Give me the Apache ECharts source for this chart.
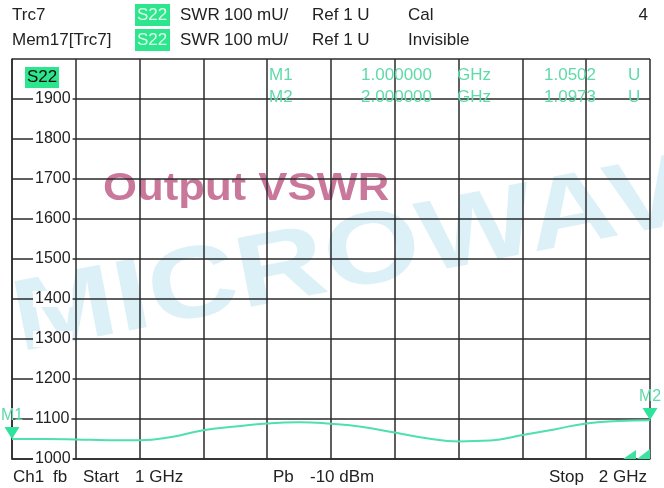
<!DOCTYPE html>
<html>
<head>
<meta charset="utf-8">
<script src="https://cdn.jsdelivr.net/npm/echarts@6/dist/echarts.min.js"></script>
<style>
  html, body { margin: 0; padding: 0; background: #fff; }
  #chart { width: 664px; height: 488px; }
</style>
</head>
<body>
<div id="chart"></div>
<script>
// frequency points (GHz) and measured SWR (mU)
var freqs = [1.00, 1.05, 1.10, 1.15, 1.20, 1.25, 1.30, 1.35, 1.40, 1.45, 1.50,
             1.55, 1.60, 1.65, 1.70, 1.75, 1.80, 1.85, 1.90, 1.95, 2.00];
var swr = [1050, 1050, 1049, 1047, 1047, 1055, 1072, 1081, 1089, 1092, 1088,
           1080, 1066, 1052, 1044, 1046, 1060, 1074, 1089, 1095, 1097];
// markers
var markerNames = ['M1', 'M2'];
var markerFreq = [1.0, 2.0];
var markerVal = [1050.2, 1097.3];
var markerFreqText = ['1.000000', '2.000000'];
var markerValText = ['1.0502', '1.0973'];

var yMin = 1000, yMax = 2000, yStep = 100;
var xMin = 1, xMax = 2, xStep = 0.1;

var trace = '#4fe0ac';
var mkText = '#5fdaa9';
var hdrGreen = '#2de58c';
var font = '"Liberation Sans", Arial, sans-serif';

var myChart = echarts.init(document.getElementById('chart'));

function txt(x, y, s, opt) {
  opt = opt || {};
  return {
    type: 'text', x: x, y: y, z: 5,
    style: {
      text: s, fill: opt.fill || '#222', font: (opt.size || 17) + 'px ' + font,
      textAlign: opt.align || 'left', textVerticalAlign: 'middle'
    }
  };
}

var graphics = [
  // watermarks
  { type: 'text', x: 24, y: 374, rotation: 11 * Math.PI / 180, scaleY: 0.82, z: -5,
    style: { text: 'MICROWAVE', fill: '#dcf0f7', font: 'bold 124px ' + font, textAlign: 'left', textVerticalAlign: 'bottom' } },
  { type: 'text', x: 103, y: 190, scaleX: 1.15, z: -5,
    style: { text: 'Output VSWR', fill: '#c9789b', font: 'bold 38px ' + font, textAlign: 'left', textVerticalAlign: 'middle' } },
  // header
  txt(12, 15, 'Trc7'),
  txt(12, 40, 'Mem17[Trc7]'),
  { type: 'rect', shape: { x: 135, y: 4, width: 35, height: 22 }, style: { fill: hdrGreen } },
  { type: 'rect', shape: { x: 135, y: 29, width: 35, height: 22 }, style: { fill: hdrGreen } },
  txt(137, 15, 'S22', { fill: '#d8ffe8' }),
  txt(137, 40, 'S22', { fill: '#d8ffe8' }),
  txt(180, 15, 'SWR'), txt(180, 40, 'SWR'),
  txt(224, 15, '100 mU/'), txt(224, 40, '100 mU/'),
  txt(312, 15, 'Ref 1 U'), txt(312, 40, 'Ref 1 U'),
  txt(408, 15, 'Cal'), txt(408, 40, 'Invisible'),
  txt(648, 15, '4', { align: 'right' }),
  // footer
  txt(13, 477, 'Ch1'), txt(53, 477, 'fb'), txt(83, 477, 'Start'),
  txt(135, 477, '1 GHz'),
  txt(273, 477, 'Pb'), txt(310, 477, '-10 dBm'),
  txt(549, 477, 'Stop'), txt(647, 477, '2 GHz', { align: 'right' }),
  // trace label box inside plot
  { type: 'rect', shape: { x: 25, y: 67, width: 34, height: 21 }, z: 5, style: { fill: hdrGreen } },
  txt(27, 77, 'S22', { fill: '#111' }),
  // out-of-range arrows
  { type: 'polygon', z: 5, shape: { points: [[623, 459], [636, 450], [636, 459]] }, style: { fill: '#3be3a0' } },
  { type: 'polygon', z: 5, shape: { points: [[637, 459], [650, 449], [650, 459]] }, style: { fill: '#3be3a0' } }
];

// marker table
for (var i = 0; i < markerNames.length; i++) {
  var yy = 75 + i * 22;
  graphics.push(txt(269, yy, markerNames[i], { fill: mkText }));
  graphics.push(txt(432, yy, markerFreqText[i], { fill: mkText, align: 'right' }));
  graphics.push(txt(457, yy, 'GHz', { fill: mkText }));
  graphics.push(txt(596, yy, markerValText[i], { fill: mkText, align: 'right' }));
  graphics.push(txt(628, yy, 'U', { fill: mkText }));
}

var lineData = freqs.map(function (f, i) { return [f, swr[i]]; });
var mpData = markerNames.map(function (n, i) {
  return { name: n, coord: [markerFreq[i], markerVal[i]] };
});

myChart.setOption({
  animation: false,
  backgroundColor: '#fff',
  grid: { left: 12, top: 59, right: 14, bottom: 29 },
  xAxis: {
    type: 'value', min: xMin, max: xMax, interval: xStep,
    axisLine: { show: true, onZero: false, lineStyle: { color: '#2a2a2a', width: 1.5 } },
    axisTick: { show: false },
    axisLabel: { show: false },
    splitLine: { show: true, lineStyle: { color: '#2a2a2a', width: 1.5 } }
  },
  yAxis: {
    type: 'value', min: yMin, max: yMax, interval: yStep,
    axisLine: { show: true, lineStyle: { color: '#2a2a2a', width: 1.5 } },
    axisTick: { show: false },
    axisLabel: {
      inside: true, margin: 21, showMaxLabel: false,
      formatter: function (v) { return String(v); },
      color: '#222', fontSize: 16, fontFamily: font,
      backgroundColor: '#fff', padding: [0, 2, 0, 2]
    },
    splitLine: { show: true, lineStyle: { color: '#2a2a2a', width: 1.5 } }
  },
  series: [{
    type: 'line',
    data: lineData,
    smooth: true,
    showSymbol: false,
    lineStyle: { color: trace, width: 2 },
    markPoint: {
      symbol: 'triangle',
      symbolRotate: 180,
      symbolSize: [15, 12],
      symbolOffset: [0, -6],
      itemStyle: { color: '#2fe39c' },
      label: {
        show: true, position: 'top', distance: 3,
        formatter: '{b}', color: mkText, fontSize: 16, fontFamily: font
      },
      data: mpData
    },
    z: 3
  }],
  graphic: graphics
});
</script>
</body>
</html>
